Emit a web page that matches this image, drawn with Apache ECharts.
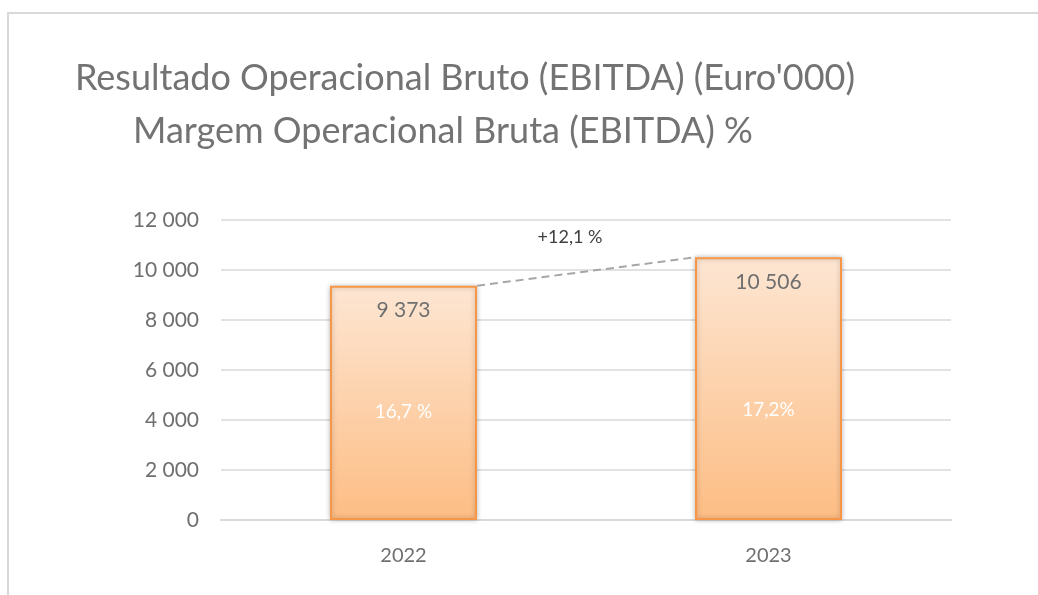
<!DOCTYPE html>
<html>
<head>
<meta charset="utf-8">
<script src="https://cdn.jsdelivr.net/npm/echarts@6/dist/echarts.min.js"></script>
<style>
  html, body { margin: 0; padding: 0; background: #fff; }
  #chart { width: 1038px; height: 595px; }
</style>
</head>
<body>
<div id="chart"></div>
<script>
  // data
  var years = ['2022', '2023']
  var ebitda = [9373, 10506]
  var margins = ['16,7 %', '17,2%']
  var growthText = '+12,1 %'

  var fmt = function (v) {
    return String(v).replace(/\B(?=(\d{3})+(?!\d))/g, ' ')
  }

  var font = 'Lato, "Open Sans", sans-serif'
  var titleStyle = { fontFamily: font, fontSize: 36, fontWeight: 'normal', color: '#737373' }
  var chart = echarts.init(document.getElementById('chart'))

  chart.setOption({
    animation: false,
    title: [
      {
        text: "Resultado Operacional Bruto (EBITDA) (Euro'000)",
        left: 460, top: 55, textAlign: 'center', textStyle: titleStyle
      },
      {
        text: 'Margem Operacional Bruta (EBITDA) %',
        left: 438, top: 108, textAlign: 'center', textStyle: titleStyle
      }
    ],
    grid: { left: 221, right: 87, top: 220, bottom: 75 },
    xAxis: {
      type: 'category',
      data: years,
      axisLine: { lineStyle: { color: '#d9d9d9', width: 2 } },
      axisTick: { show: false },
      axisLabel: { color: '#6f6f6f', fontSize: 20, fontFamily: font, margin: 26 }
    },
    yAxis: {
      type: 'value',
      min: 0,
      max: 12000,
      interval: 2000,
      axisLine: { show: false },
      axisTick: { show: false },
      axisLabel: { color: '#6f6f6f', fontSize: 21, fontFamily: font, margin: 22, formatter: fmt },
      splitLine: { lineStyle: { color: '#d9d9d9', width: 1.5 } }
    },
    series: [
      {
        type: 'bar',
        data: ebitda,
        barWidth: 147,
        itemStyle: {
          color: new echarts.graphic.LinearGradient(0, 0, 0, 1, [
            { offset: 0, color: '#fde6d3' },
            { offset: 1, color: '#fdbd84' }
          ]),
          borderColor: '#f79646',
          borderWidth: 2,
          shadowBlur: 5,
          shadowColor: 'rgba(0,0,0,0.25)'
        },
        label: {
          show: true,
          position: 'insideTop',
          distance: 14,
          color: '#6f6f6f',
          fontSize: 21,
          fontFamily: font,
          formatter: function (p) { return fmt(p.value) }
        },
        z: 2
      },
      {
        type: 'bar',
        data: ebitda.map(function (v, i) {
          return { value: v, label: { position: ['50%', i === 0 ? '54%' : '58%'] } }
        }),
        barWidth: 147,
        barGap: '-100%',
        itemStyle: { color: 'transparent' },
        label: {
          show: true,
          align: 'center',
          verticalAlign: 'middle',
          color: '#ffffff',
          fontSize: 19,
          fontFamily: font,
          formatter: function (p) { return margins[p.dataIndex] }
        },
        silent: true,
        z: 3
      }
    ]
  })

  // dashed link from top-right of first bar to top-left of second bar
  var half = 147 / 2
  var p0 = chart.convertToPixel({ seriesIndex: 0 }, [0, ebitda[0]])
  var p1 = chart.convertToPixel({ seriesIndex: 0 }, [1, ebitda[1]])
  var x0 = p0[0] + half, y0 = p0[1]
  var x1 = p1[0] - half, y1 = p1[1]

  chart.setOption({
    graphic: [
      {
        type: 'rect',
        shape: { x: 8, y: 13, width: 1100, height: 700 },
        style: { fill: 'none', stroke: '#d9d9d9', lineWidth: 2 },
        silent: true
      },
      {
        type: 'line',
        shape: { x1: x0, y1: y0, x2: x1, y2: y1 },
        style: { stroke: '#a6a6a6', lineWidth: 2, lineDash: [8, 5] },
        z: 10
      },
      {
        type: 'text',
        x: (x0 + x1) / 2 - 16,
        y: (y0 + y1) / 2 - 34,
        style: {
          text: growthText,
          fill: '#404040',
          font: '18px ' + font,
          textAlign: 'center',
          textVerticalAlign: 'middle'
        },
        z: 10
      }
    ]
  })

  window.addEventListener('resize', function () { chart.resize() })
</script>
</body>
</html>
